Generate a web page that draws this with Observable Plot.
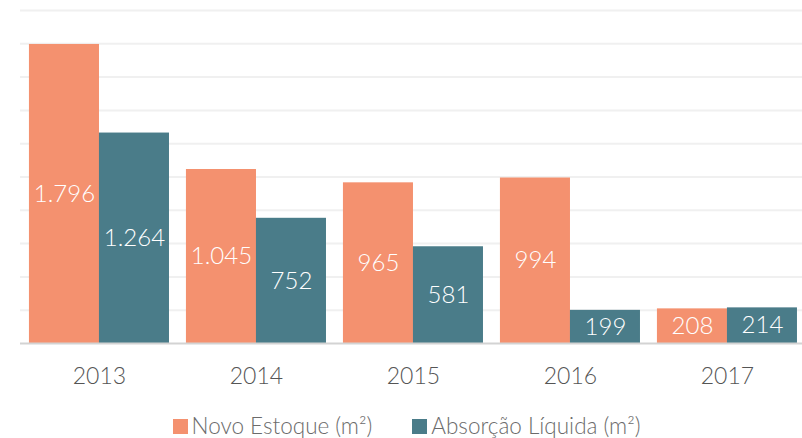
<!DOCTYPE html>
<html>
<head>
<meta charset="utf-8">
<script src="https://cdn.jsdelivr.net/npm/d3@7"></script>
<script src="https://cdn.jsdelivr.net/npm/@observablehq/plot@0.6"></script>
<style>
  html, body { margin: 0; padding: 0; background: #fff; }
  body { width: 802px; height: 438px; overflow: hidden; font-family: Lato, "Open Sans", sans-serif; font-weight: 300; }
  #chart svg { display: block; }
  #legend { box-sizing: border-box; display: flex; justify-content: center; align-items: center; gap: 40px; height: 38px; padding-top: 14px; margin-left: 11px; color: #6b6b6b; font-size: 22.5px; line-height: 24px; }
  #legend .item { display: flex; align-items: center; gap: 4px; }
  #legend .sw { width: 15px; height: 15px; display: inline-block; }
</style>
</head>
<body>
<div id="chart"></div>
<div id="legend"></div>
<script>
const years = ["2013", "2014", "2015", "2016", "2017"];
const novoEstoque = [1796, 1045, 965, 994, 208];
const absorcao = [1264, 752, 581, 199, 214];
const seriesNames = ["Novo Estoque (m²)", "Absorção Líquida (m²)"];
const seriesColors = ["#F4916F", "#4A7C89"];
const gridTicks = [200, 400, 600, 800, 1000, 1200, 1400, 1600, 1800, 2000];

const rows = years.map((year, i) => ({ year, novo: novoEstoque[i], abs: absorcao[i] }));
const fmt = d3.formatLocale({ decimal: ",", thousands: ".", grouping: [3], currency: ["R$", ""] }).format(",d");

const chart = Plot.plot({
  width: 802,
  height: 400,
  marginLeft: 20,
  marginRight: 0,
  marginTop: 10,
  marginBottom: 57,
  style: { fontFamily: "Lato, 'Open Sans', sans-serif", fontWeight: 300, background: "#fff" },
  x: { domain: years, paddingInner: 0.108, paddingOuter: 0.0445, align: 0.64, round: false, axis: null },
  y: { domain: [0, 2000], axis: null },
  marks: [
    Plot.ruleY(gridTicks, { stroke: "#f0f0f0", strokeWidth: 2 }),
    Plot.barY(rows, { x: "year", y: "novo", fill: seriesColors[0], insetRight: 70 }),
    Plot.barY(rows, { x: "year", y: "abs", fill: seriesColors[1], insetLeft: 70 }),
    Plot.text(rows, { x: "year", y: d => d.novo / 2, text: d => fmt(d.novo), dx: -35, fill: "white", fontSize: 24, fontWeight: 300 }),
    Plot.text(rows, { x: "year", y: d => d.abs / 2, text: d => fmt(d.abs), dx: 35, fill: "white", fontSize: 24, fontWeight: 300 }),
    Plot.ruleY([0], { stroke: "#d3d3d3", strokeWidth: 2 }),
    Plot.axisX({ tickSize: 0, tickPadding: 24, fontSize: 23, fill: "#555", label: null })
  ]
});
document.getElementById("chart").appendChild(chart);

const legend = document.getElementById("legend");
seriesNames.forEach((name, i) => {
  const item = document.createElement("div");
  item.className = "item";
  const sw = document.createElement("span");
  sw.className = "sw";
  sw.style.background = seriesColors[i];
  const t = document.createElement("span");
  t.textContent = name;
  item.appendChild(sw);
  item.appendChild(t);
  legend.appendChild(item);
});
</script>
</body>
</html>
